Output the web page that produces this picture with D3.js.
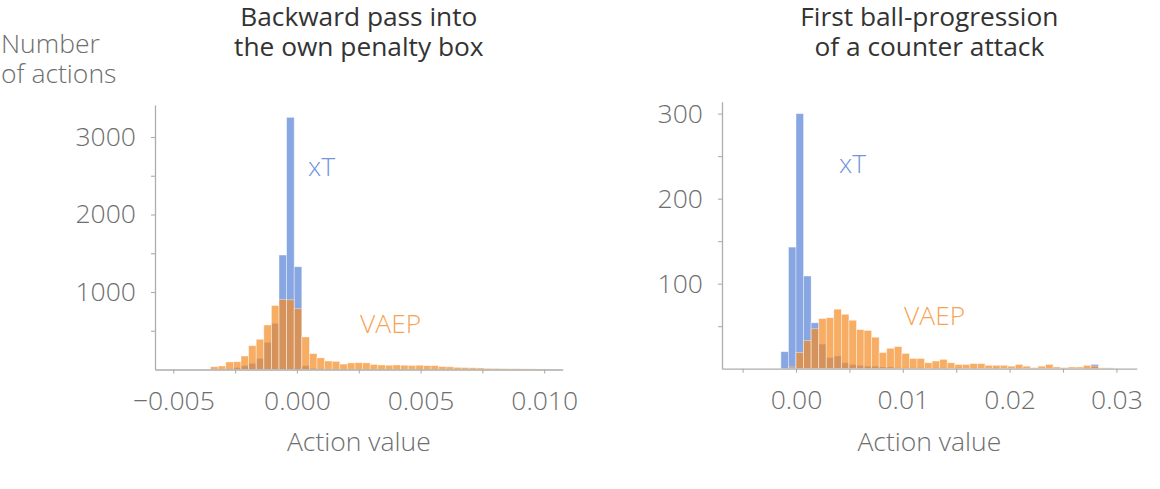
<!DOCTYPE html>
<html>
<head>
<meta charset="utf-8">
<script src="https://cdn.jsdelivr.net/npm/d3@7"></script>
<style>
  html, body { margin: 0; padding: 0; background: #fff; }
  svg { display: block; font-family: 'Open Sans', 'DejaVu Sans', sans-serif; }
</style>
</head>
<body>
<svg id="chart" width="1160" height="489"></svg>
<script>
// ---------------- DATA ----------------
// Panel 1: Backward pass into the own penalty box
const p1Title = ["Backward pass into", "the own penalty box"];
const p1BinStart = -0.003491;      // left edge of first bin
const p1BinWidth = 0.0003074;      // histogram bin width
const p1VAEP = [36,45,97,100,174,307,390,574,825,905,900,785,
                420,205,150,110,105,70,85,88,85,65,
                58,55,58,55,52,55,50,50,38,35,
                28,25,22,20,15,14,12,10,10,8,
                8,6,5,4];
const p1XT   = [0,3,8,25,50,80,144,351,596,1477,3254,1326,
                50,15,8,5,3,2,2,1,1,1,
                1,1,0,1,0,0,1,0,0,0,
                0,0,0,0,0,0,0,0,0,0,
                0,0,0,0];
const p1XDomain = [-0.00574, 0.01075];
const p1YMax = 3413;
const p1XTicks = [-0.005,-0.0025,0,0.0025,0.005,0.0075,0.01];
const p1XTickLabels = ["\u22120.005","","0.000","","0.005","","0.010"];
const p1YTicks = [500,1000,1500,2000,2500,3000];
const p1YTickLabels = ["","1000","","2000","","3000"];

// Panel 2: First ball-progression of a counter attack
const p2Title = ["First ball-progression", "of a counter attack"];
const p2BinStart = -0.001416;
const p2BinWidth = 0.000708;
const p2VAEP = [0,2,
                19,33,47,59,60,70,64,57,46,45,
                37,19,24,26,18,12,12,7,9,11,
                7,5,5,6,6,4,4,4,3,5,
                3,1,3,5,2,1,2,2,4,3,
                1,1];
const p2XT   = [20,143,
                300,109,54,29,13,15,7,5,4,3,
                3,2,2,1,1,1,1,0,1,1,
                0,1,0,1,0,0,1,0,0,1,
                0,1,0,0,0,1,0,0,1,5,
                0,0];
const p2XDomain = [-0.00693, 0.0319];
const p2YMax = 314;
const p2XTicks = [-0.005,0,0.005,0.01,0.015,0.02,0.025,0.03];
const p2XTickLabels = ["","0.00","","0.01","","0.02","","0.03"];
const p2YTicks = [50,100,150,200,250,300];
const p2YTickLabels = ["","100","","200","","300"];

const yAxisLabel = ["Number", "of actions"];
const xAxisLabel = "Action value";
const seriesNames = ["xT", "VAEP"];

// ---------------- STYLE ----------------
const COL_XT = "#4a78d2";
const COL_VAEP = "#f58a24";
const XT_OPACITY = 0.66;
const VAEP_OPACITY = 0.7;
const AXIS_COL = "#adadad";
const TICK_TEXT = "#6e6e6e";
const FONT_SIZE = 26.5;
const TITLE_SIZE = 26.3;

const svg = d3.select("#chart");

function drawPanel(cfg) {
  const x = d3.scaleLinear().domain(cfg.xDomain).range([cfg.left, cfg.right]);
  const y = d3.scaleLinear().domain([0, cfg.yMax]).range([cfg.bottom, cfg.top]);
  const g = svg.append("g");

  function bars(counts, color, op) {
    const data = counts.map((c, i) => ({ x0: cfg.binStart + i * cfg.binWidth, c }));
    g.append("g").selectAll("rect").data(data.filter(d => d.c > 0)).join("rect")
      .attr("x", d => x(d.x0))
      .attr("width", d => x(d.x0 + cfg.binWidth) - x(d.x0))
      .attr("y", d => y(d.c))
      .attr("height", d => y(0) - y(d.c))
      .attr("fill", color)
      .attr("fill-opacity", op)
      .attr("stroke", "#fff")
      .attr("stroke-opacity", 0.5)
      .attr("stroke-width", 0.8);
  }
  bars(cfg.xt, COL_XT, XT_OPACITY);
  bars(cfg.vaep, COL_VAEP, VAEP_OPACITY);

  // x axis
  const xa = g.append("g").attr("transform", `translate(0,${cfg.bottom})`)
    .call(d3.axisBottom(x).tickValues(cfg.xTicks)
      .tickFormat((d, i) => cfg.xTickLabels[i]).tickSize(4).tickSizeOuter(0));
  // y axis
  const ya = g.append("g").attr("transform", `translate(${cfg.left},0)`)
    .call(d3.axisLeft(y).tickValues(cfg.yTicks)
      .tickFormat((d, i) => cfg.yTickLabels[i]).tickSize(4).tickSizeOuter(0).tickPadding(15));

  [xa, ya].forEach(a => {
    a.select(".domain").attr("stroke", AXIS_COL).attr("stroke-width", 1.3);
    a.selectAll(".tick line").attr("stroke", AXIS_COL).attr("stroke-width", 1.1);
    a.selectAll(".tick text").attr("fill", TICK_TEXT)
      .attr("font-size", FONT_SIZE).attr("font-weight", 300)
      .attr("font-family", "'Open Sans', sans-serif");
  });
  xa.selectAll(".tick text").attr("y", 40).attr("dy", 0);

  // titles
  const cx = (cfg.left + cfg.right) / 2;
  cfg.title.forEach((t, i) => {
    svg.append("text").attr("x", cx).attr("y", 26 + i * 30)
      .attr("text-anchor", "middle").attr("fill", "#333")
      .attr("font-size", TITLE_SIZE).attr("font-weight", 400).text(t);
  });
  // x label
  svg.append("text").attr("x", cx).attr("y", 451)
    .attr("text-anchor", "middle").attr("fill", TICK_TEXT)
    .attr("font-size", FONT_SIZE).attr("font-weight", 300).text(xAxisLabel);

  // series labels
  svg.append("text").attr("x", cfg.xtLabel[0]).attr("y", cfg.xtLabel[1])
    .attr("fill", COL_XT).attr("fill-opacity", 0.8)
    .attr("font-size", FONT_SIZE).attr("font-weight", 300).text(seriesNames[0]);
  svg.append("text").attr("x", cfg.vaepLabel[0]).attr("y", cfg.vaepLabel[1])
    .attr("fill", COL_VAEP).attr("fill-opacity", 0.8)
    .attr("font-size", FONT_SIZE).attr("font-weight", 300).text(seriesNames[1]);
}

drawPanel({
  title: p1Title, xDomain: p1XDomain, yMax: p1YMax,
  binStart: p1BinStart, binWidth: p1BinWidth, vaep: p1VAEP, xt: p1XT,
  xTicks: p1XTicks, xTickLabels: p1XTickLabels, yTicks: p1YTicks, yTickLabels: p1YTickLabels,
  left: 155, right: 562.7, top: 105, bottom: 369.5,
  xtLabel: [308, 176], vaepLabel: [360, 333]
});
drawPanel({
  title: p2Title, xDomain: p2XDomain, yMax: p2YMax,
  binStart: p2BinStart, binWidth: p2BinWidth, vaep: p2VAEP, xt: p2XT,
  xTicks: p2XTicks, xTickLabels: p2XTickLabels, yTicks: p2YTicks, yTickLabels: p2YTickLabels,
  left: 722, right: 1136.7, top: 101.7, bottom: 368.7,
  xtLabel: [839, 172.5], vaepLabel: [904, 325]
});

// y-axis label (top-left)
yAxisLabel.forEach((t, i) => {
  svg.append("text").attr("x", 1).attr("y", 53 + i * 30)
    .attr("fill", TICK_TEXT).attr("font-size", FONT_SIZE).attr("font-weight", 300).text(t);
});
</script>
</body>
</html>
